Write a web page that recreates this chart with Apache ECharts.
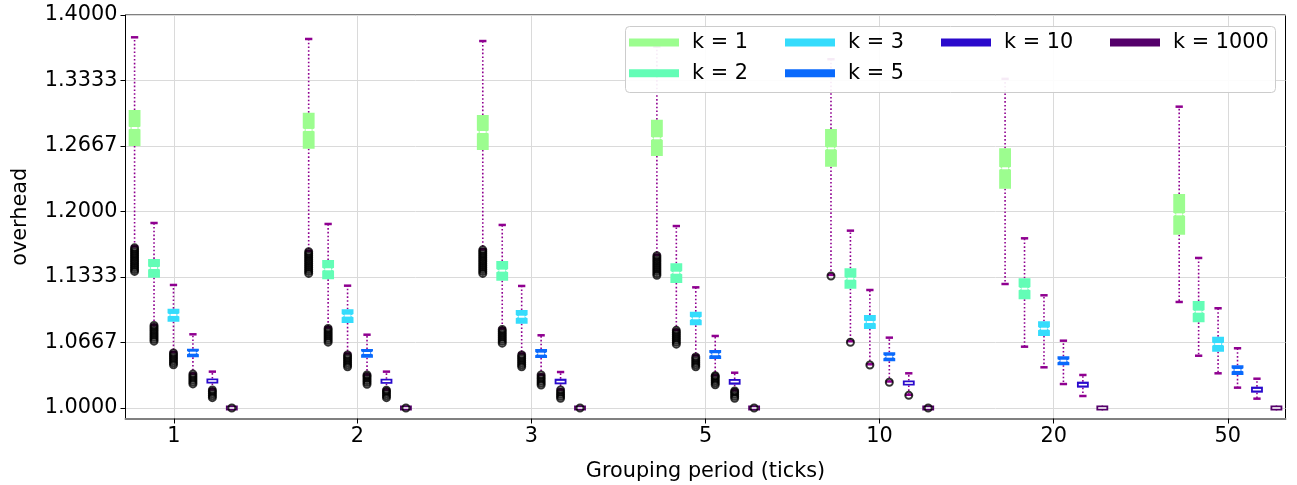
<!DOCTYPE html>
<html>
<head>
<meta charset="utf-8">
<script src="https://cdn.jsdelivr.net/npm/echarts@6/dist/echarts.min.js"></script>
<style>html,body{margin:0;padding:0;background:#fff}#c{width:1297px;height:485px}</style>
</head>
<body>
<div id="c"></div>
<script>
// ---- data ----
const categories = ['1', '2', '3', '5', '10', '20', '50'];
const xTickPositions = [-0.053, 1, 2, 3, 4, 5, 6];
const yTicks = [1.0, 1.066667, 1.133333, 1.2, 1.266667, 1.333333, 1.4];
const seriesNames = ['k = 1', 'k = 2', 'k = 3', 'k = 5', 'k = 10', 'k = 1000'];
const seriesColors = ['#9cfd8f', '#63fdb6', '#35dcfc', '#0a6afc', '#2a0acc', '#54006a'];

// [low whisker, q1, median, q3, high whisker] per group
const k1Stats = [
  [1.1645, 1.2667, 1.2850, 1.3033, 1.3773],
  [1.1600, 1.2639, 1.2830, 1.3006, 1.3756],
  [1.1615, 1.2626, 1.2809, 1.2982, 1.3735],
  [1.1560, 1.2565, 1.2745, 1.2935, 1.3680],
  [1.1355, 1.2456, 1.2643, 1.2840, 1.3550],
  [1.1262, 1.2232, 1.2440, 1.2643, 1.3350],
  [1.1079, 1.1764, 1.1971, 1.2178, 1.3067]
];
const k2Stats = [
  [1.0845, 1.1326, 1.1425, 1.1517, 1.1883],
  [1.0820, 1.1310, 1.1412, 1.1506, 1.1873],
  [1.0810, 1.1296, 1.1398, 1.1496, 1.1863],
  [1.0795, 1.1272, 1.1377, 1.1473, 1.1852],
  [1.0680, 1.1214, 1.1316, 1.1422, 1.1805],
  [1.0624, 1.1106, 1.1214, 1.1320, 1.1727],
  [1.0532, 1.0872, 1.0980, 1.1089, 1.1527]
];
const k3Stats = [
  [1.0570, 1.0878, 1.0947, 1.1011, 1.1252],
  [1.0555, 1.0865, 1.0940, 1.1004, 1.1245],
  [1.0555, 1.0858, 1.0929, 1.0997, 1.1242],
  [1.0535, 1.0841, 1.0913, 1.0980, 1.1228],
  [1.0445, 1.0804, 1.0875, 1.0947, 1.1201],
  [1.0414, 1.0733, 1.0807, 1.0882, 1.1147],
  [1.0353, 1.0573, 1.0651, 1.0726, 1.1015]
];
const k5Stats = [
  [1.0350, 1.0516, 1.0563, 1.0604, 1.0750],
  [1.0340, 1.0512, 1.0560, 1.0600, 1.0746],
  [1.0340, 1.0509, 1.0553, 1.0600, 1.0740],
  [1.0333, 1.0499, 1.0547, 1.0590, 1.0733],
  [1.0270, 1.0475, 1.0522, 1.0567, 1.0716],
  [1.0244, 1.0435, 1.0481, 1.0526, 1.0685],
  [1.0207, 1.0336, 1.0387, 1.0435, 1.0608]
];
const k10Stats = [
  [1.0190, 1.0251, 1.0275, 1.0298, 1.0370],
  [1.0188, 1.0248, 1.0272, 1.0296, 1.0370],
  [1.0188, 1.0241, 1.0268, 1.0298, 1.0366],
  [1.0180, 1.0237, 1.0268, 1.0295, 1.0359],
  [1.0135, 1.0231, 1.0254, 1.0278, 1.0353],
  [1.0122, 1.0207, 1.0237, 1.0268, 1.0336],
  [1.0095, 1.0156, 1.0186, 1.0217, 1.0298]
];
const k1000Stats = [
  [1.0, 1.0, 1.0, 1.0, 1.0],
  [1.0, 1.0, 1.0, 1.0, 1.0],
  [1.0, 1.0, 1.0, 1.0, 1.0],
  [1.0, 1.0, 1.0, 1.0, 1.0],
  [1.0, 1.0, 1.0, 1.0, 1.0],
  [1.0, 1.0, 1.0, 1.0, 1.0],
  [1.0, 1.0, 1.0, 1.0, 1.0]
];

// outliers per group
const k1Outliers = [
  [1.139, 1.141, 1.143, 1.145, 1.147, 1.149, 1.151, 1.153, 1.155, 1.157, 1.159, 1.161, 1.163],
  [1.137, 1.139, 1.141, 1.143, 1.145, 1.147, 1.149, 1.151, 1.153, 1.155, 1.157, 1.159],
  [1.137, 1.139, 1.141, 1.143, 1.145, 1.147, 1.149, 1.151, 1.153, 1.155, 1.157, 1.159, 1.161],
  [1.135, 1.137, 1.139, 1.141, 1.143, 1.145, 1.147, 1.149, 1.151, 1.153, 1.155],
  [1.1344], [], []
];
const k2Outliers = [
  [1.068, 1.070, 1.072, 1.074, 1.076, 1.078, 1.080, 1.082, 1.084],
  [1.067, 1.069, 1.071, 1.073, 1.075, 1.077, 1.079, 1.081],
  [1.066, 1.068, 1.070, 1.072, 1.074, 1.076, 1.078, 1.080],
  [1.065, 1.067, 1.069, 1.071, 1.073, 1.075, 1.077, 1.079],
  [1.0669], [], []
];
const k3Outliers = [
  [1.044, 1.046, 1.048, 1.050, 1.052, 1.054, 1.056],
  [1.042, 1.044, 1.046, 1.048, 1.050, 1.052, 1.054],
  [1.042, 1.044, 1.046, 1.048, 1.050, 1.052, 1.054],
  [1.042, 1.044, 1.046, 1.048, 1.050, 1.052],
  [1.0438], [], []
];
const k5Outliers = [
  [1.0245, 1.0265, 1.0285, 1.0305, 1.0325, 1.0345],
  [1.0241, 1.0261, 1.0281, 1.0301, 1.0321, 1.0336],
  [1.0234, 1.0254, 1.0274, 1.0294, 1.0314, 1.0336],
  [1.0237, 1.0257, 1.0277, 1.0297, 1.0317, 1.0329],
  [1.0262], [], []
];
const k10Outliers = [
  [1.0105, 1.0125, 1.0145, 1.0165, 1.0183],
  [1.0105, 1.0125, 1.0145, 1.0165, 1.0180],
  [1.0099, 1.0119, 1.0139, 1.0159, 1.0183],
  [1.0099, 1.0119, 1.0139, 1.0159, 1.0173],
  [1.0129], [], []
];
const k1000Outliers = [[1.0], [1.0], [1.0], [1.0], [1.0], [], []];

const allStats = [k1Stats, k2Stats, k3Stats, k5Stats, k10Stats, k1000Stats];
const allOutliers = [k1Outliers, k2Outliers, k3Outliers, k5Outliers, k10Outliers, k1000Outliers];

// ---- layout constants ----
const BOX_STEP = 0.1117;
const BOX_HALF = 0.034;
const CAP_HALF = 0.021;
const WHISKER = '#8f0090';
const FONT = 'DejaVu Sans';

function makeRender(j, color) {
  return function (params, api) {
    const g = api.value(0);
    const x = g + (j - 2.5) * BOX_STEP;
    const low = api.value(1), q1 = api.value(2), med = api.value(3), q3 = api.value(4), high = api.value(5);
    const pLow = api.coord([x, low]);
    const pHigh = api.coord([x, high]);
    const pQ1 = api.coord([x, q1]);
    const pQ3 = api.coord([x, q3]);
    const pMed = api.coord([x, med]);
    const L = api.coord([x - BOX_HALF, q1])[0];
    const R = api.coord([x + BOX_HALF, q1])[0];
    const cL = api.coord([x - CAP_HALF, q1])[0];
    const cR = api.coord([x + CAP_HALF, q1])[0];
    const w = R - L;
    let yb = pQ1[1], yt = pQ3[1];
    if (yb - yt < 5) { const m = (yb + yt) / 2; yb = m + 2.5; yt = m - 2.5; }
    const ym = pMed[1];
    const small = (yb - yt) < 7;
    const n = Math.min(1.6, (yb - yt) / 2 - 0.5);
    const d = small ? 1.8 : w * 0.25;
    const children = [];
    const dash = { stroke: WHISKER, lineWidth: 1.6, lineDash: [1.6, 2.2] };
    children.push({ type: 'line', shape: { x1: pQ3[0], y1: yt, x2: pHigh[0], y2: pHigh[1] }, style: dash });
    children.push({ type: 'line', shape: { x1: pQ1[0], y1: yb, x2: pLow[0], y2: pLow[1] }, style: dash });
    children.push({ type: 'line', shape: { x1: cL, y1: pHigh[1], x2: cR, y2: pHigh[1] }, style: { stroke: WHISKER, lineWidth: 2.5 } });
    children.push({ type: 'line', shape: { x1: cL, y1: pLow[1], x2: cR, y2: pLow[1] }, style: { stroke: WHISKER, lineWidth: 2.5 } });
    if (small) {
      children.push({ type: 'rect', shape: { x: L, y: yt, width: w, height: yb - yt }, style: { fill: color, stroke: null } });
    } else {
      children.push({
        type: 'polygon',
        shape: { points: [[L, yb], [R, yb], [R, ym + n], [R - d, ym], [R, ym - n], [R, yt], [L, yt], [L, ym - n], [L + d, ym], [L, ym + n]] },
        style: { fill: color, stroke: null }
      });
    }
    children.push({ type: 'line', shape: { x1: L + d, y1: ym, x2: R - d, y2: ym }, style: { stroke: '#ffffff', lineWidth: small ? 1.6 : 2 } });
    return { type: 'group', children: children };
  };
}

const series = [];
seriesNames.forEach(function (name, j) {
  series.push({
    name: name,
    type: 'custom',
    itemStyle: { color: seriesColors[j] },
    renderItem: makeRender(j, seriesColors[j]),
    encode: { x: 0, y: [1, 2, 3, 4, 5] },
    data: allStats[j].map(function (s, g) { return [g].concat(s); }),
    z: 2,
    silent: true
  });
  const pts = [];
  allOutliers[j].forEach(function (vals, g) {
    vals.forEach(function (v) { pts.push([g + (j - 2.5) * BOX_STEP, v]); });
  });
  series.push({
    name: name + ' outliers',
    type: 'scatter',
    symbol: 'circle',
    symbolSize: 7,
    itemStyle: { color: 'rgba(0,0,0,0)', borderColor: '#000', borderWidth: 2 },
    data: pts,
    z: 3,
    silent: true
  });
});

const legendCols = [
  { left: 629, data: ['k = 1', 'k = 2'] },
  { left: 785, data: ['k = 3', 'k = 5'] },
  { left: 941, data: ['k = 10'] },
  { left: 1110, data: ['k = 1000'] }
];

const chart = echarts.init(document.getElementById('c'), null, { renderer: 'canvas' });
chart.setOption({
  animation: false,
  backgroundColor: '#fff',
  grid: { left: 125.5, right: 11.5, top: 15, bottom: 66.5, outerBoundsMode: 'none', containLabel: false, show: true, borderColor: '#000', borderWidth: 1, backgroundColor: 'transparent' },
  xAxis: {
    type: 'value',
    min: -0.3314, max: 6.3314,
    name: 'Grouping period (ticks)',
    nameLocation: 'middle',
    nameGap: 43,
    nameTextStyle: { fontFamily: FONT, fontSize: 20.8, color: '#000' },
    axisLine: { show: true, onZero: false, lineStyle: { color: '#808080', width: 2 } },
    axisTick: { show: true, customValues: xTickPositions, length: 5, lineStyle: { color: '#000', width: 1 } },
    axisLabel: {
      customValues: xTickPositions,
      margin: 8,
      fontFamily: FONT, fontSize: 20.8, color: '#000',
      formatter: function (v) {
        let best = 0, bd = 1e9;
        xTickPositions.forEach(function (p, i) { const dd = Math.abs(p - v); if (dd < bd) { bd = dd; best = i; } });
        return categories[best];
      }
    },
    splitLine: { show: true, lineStyle: { color: '#dadada', width: 1 } }
  },
  yAxis: {
    type: 'value',
    min: 0.9893, max: 1.4,
    name: 'overhead',
    nameLocation: 'middle',
    nameGap: 94,
    nameTextStyle: { fontFamily: FONT, fontSize: 20.8, color: '#000' },
    axisLine: { show: true, onZero: false, lineStyle: { color: '#000', width: 1 } },
    axisTick: { show: true, customValues: yTicks, length: 5, lineStyle: { color: '#000', width: 1 } },
    axisLabel: {
      customValues: yTicks,
      margin: 8,
      fontFamily: FONT, fontSize: 20.8, color: '#000',
      formatter: function (v) { return v.toFixed(4); }
    },
    splitLine: { show: true, lineStyle: { color: '#dadada', width: 1 } }
  },
  graphic: [{
    type: 'rect',
    z: 10,
    shape: { x: 625.5, y: 26.5, width: 650, height: 66, r: 4 },
    style: { fill: 'rgba(255,255,255,0.92)', stroke: '#cccccc', lineWidth: 1 }
  }],
  legend: legendCols.map(function (c) {
    return {
      orient: 'vertical',
      left: c.left,
      top: 30.5,
      padding: 0,
      itemGap: 6.8,
      itemWidth: 50,
      itemHeight: 8,
      icon: 'rect',
      selectedMode: false,
      z: 20,
      data: c.data,
      textStyle: { fontFamily: FONT, fontSize: 20.8, color: '#000', lineHeight: 24, padding: [0, 0, 0, 8] }
    };
  }),
  series: series
});
</script>
</body>
</html>
